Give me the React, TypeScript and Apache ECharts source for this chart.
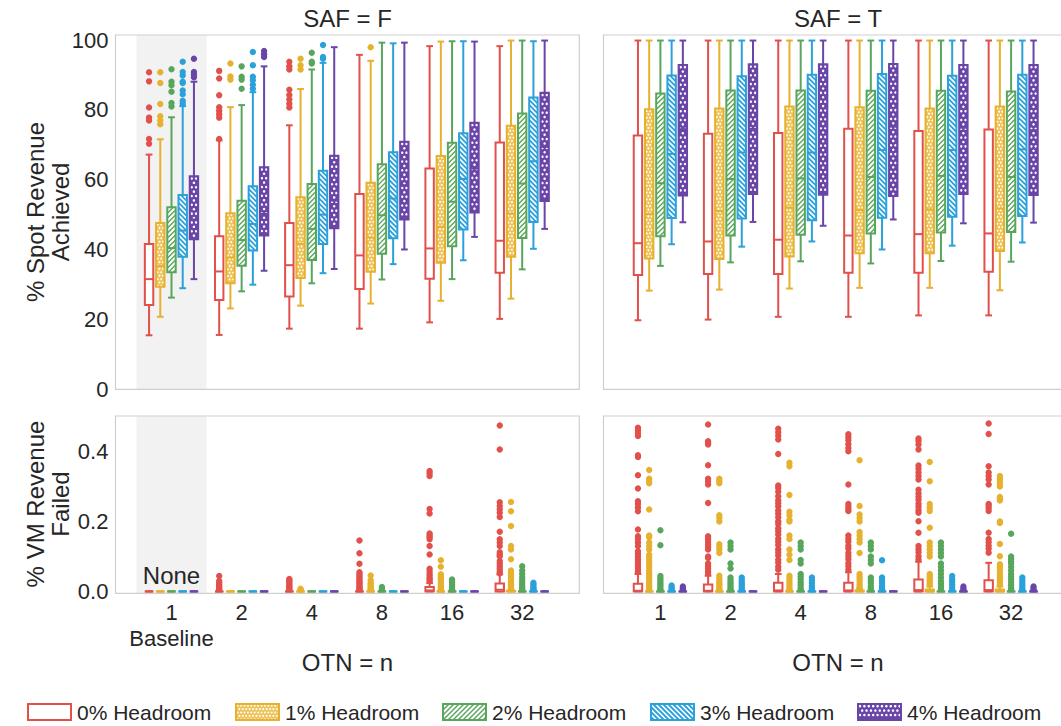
import React, { useEffect, useRef } from 'react';
import * as echarts from 'echarts';

const OTN = ['1', '2', '4', '8', '16', '32'];
const HEADROOM = ['0% Headroom', '1% Headroom', '2% Headroom', '3% Headroom', '4% Headroom'];
const COLORS = ['#E1504A', '#E6B12E', '#58A65C', '#2AA1DA', '#6A45A8'];
const FONT = '"Liberation Sans", Arial, sans-serif';
const TXT = '#262626';

// ---- % Spot Revenue Achieved, SAF = F : [whiskerLow, Q1, median, Q3, whiskerHigh] per OTN
const spotF_h0 = [[15.4, 24.1, 31.5, 41.6, 67.2], [15.5, 25.5, 33.7, 43.8, 71.3], [17.3, 26.5, 35.5, 47.6, 75.6], [17.3, 28.7, 38.3, 55.9, 95.8], [19.1, 31.6, 40.3, 63.2, 98.3], [20.1, 33.3, 42.5, 70.7, 98.3]];
const spotF_h1 = [[20.7, 29.3, 35.3, 47.6, 71.6], [23.1, 30.3, 37.7, 50.4, 80.8], [23.9, 31.8, 41.6, 55.0, 86.0], [24.5, 33.6, 43.4, 59.1, 94.1], [25.3, 36.2, 46.5, 66.8, 99.6], [25.9, 37.9, 50.3, 75.5, 99.9]];
const spotF_h2 = [[26.2, 33.5, 40.4, 52.1, 77.9], [28.0, 35.3, 42.7, 54.0, 81.4], [30.3, 37.0, 45.9, 58.8, 91.6], [31.4, 38.8, 49.8, 64.4, 99.3], [31.5, 40.9, 53.7, 70.6, 99.7], [34.3, 43.3, 58.9, 79.0, 99.9]];
const spotF_h3 = [[28.9, 37.9, 45.4, 55.6, 81.1], [29.9, 39.7, 47.3, 58.1, 85.1], [33.2, 41.6, 50.0, 62.6, 93.5], [35.8, 43.2, 54.6, 67.9, 99.1], [36.9, 45.7, 60.2, 73.3, 99.7], [40.2, 47.9, 65.3, 83.6, 99.7]];
const spotF_h4 = [[31.5, 42.9, 48.6, 61.0, 88.1], [33.9, 44.0, 50.2, 63.6, 92.5], [34.4, 46.1, 54.0, 66.9, 98.0], [40.0, 48.6, 58.4, 70.9, 99.3], [43.6, 50.6, 63.2, 76.3, 99.6], [45.9, 53.9, 69.4, 84.9, 99.9]];

const spotF_out0 = [[90.8, 88.2, 80.7, 77.8, 77.0, 71.7, 70.3], [91.2, 89.0, 84.2, 80.8, 79.8, 78.8, 77.8, 71.7], [93.8, 92.5, 91.6, 85.8, 84.3, 83.0, 81.8, 80.7], [], [], []];
const spotF_out1 = [[90.8, 87.7, 81.7, 78.2, 77.0, 75.9], [93.3, 89.6, 88.7], [94.7, 92.8, 91.6], [98.0], [], []];
const spotF_out2 = [[91.7, 88.1, 87.1, 85.2, 82.0, 81.0], [92.5, 89.5, 88.7, 86.1], [96.4, 93.8, 93.3], [], [], []];
const spotF_out3 = [[93.8, 90.9, 89.9, 88.1, 87.7, 85.6, 84.5, 82.6, 81.8], [96.6, 92.8, 89.5, 88.5, 87.2, 86.1], [98.6, 95.2, 94.7], [], [], []];
const spotF_out4 = [[94.7, 90.9, 90.2, 89.4], [96.9, 96.0, 95.2], [], [], [], []];

// ---- % Spot Revenue Achieved, SAF = T
const spotT_h0 = [[19.7, 32.7, 41.8, 72.7, 99.9], [19.9, 33.0, 42.3, 73.2, 99.9], [20.7, 33.0, 42.8, 73.4, 99.9], [20.7, 33.3, 44.0, 74.6, 99.9], [21.1, 33.3, 44.4, 74.0, 99.9], [21.1, 33.6, 44.6, 74.4, 99.9]];
const spotT_h1 = [[28.2, 37.4, 50.2, 80.2, 99.9], [28.5, 37.3, 51.0, 80.4, 99.9], [28.8, 38.0, 52.0, 81.0, 99.9], [29.0, 38.9, 51.3, 80.8, 99.9], [29.0, 38.9, 51.5, 80.4, 99.9], [28.3, 39.6, 51.7, 81.0, 99.9]];
const spotT_h2 = [[35.3, 43.8, 59.0, 84.7, 99.9], [36.3, 44.0, 60.2, 85.6, 99.9], [36.6, 44.2, 60.4, 85.6, 99.9], [36.0, 44.6, 60.8, 85.5, 99.9], [36.7, 44.9, 61.1, 85.5, 99.9], [36.5, 45.0, 60.8, 85.3, 99.9]];
const spotT_h3 = [[41.5, 49.0, 67.4, 89.9, 99.9], [40.8, 48.9, 67.8, 89.7, 99.9], [42.3, 48.4, 67.8, 90.1, 99.9], [40.0, 49.1, 68.5, 90.3, 99.9], [41.1, 49.4, 68.5, 89.8, 99.9], [42.0, 49.6, 68.7, 90.1, 99.9]];
const spotT_h4 = [[47.8, 55.5, 74.5, 92.9, 99.9], [47.9, 55.9, 74.6, 93.1, 99.9], [46.8, 55.7, 75.3, 93.1, 99.9], [48.6, 55.3, 75.2, 93.2, 99.9], [47.5, 55.9, 74.9, 92.9, 99.9], [47.7, 55.6, 74.2, 92.9, 99.9]];
const spotT_out0 = [[], [], [], [], [], []];
const spotT_out1 = [[], [], [], [], [], []];
const spotT_out2 = [[], [], [], [], [], []];
const spotT_out3 = [[], [], [], [], [], []];
const spotT_out4 = [[], [], [], [], [], []];

// ---- % VM Revenue Failed, SAF = F
const failF_h0 = [[0, 0, 0, 0, 0], [0, 0, 0, 0, 0], [0, 0, 0, 0, 0], [0, 0, 0, 0, 0], [0, 0, 0.003, 0.013, 0.024], [0, 0, 0.005, 0.023, 0.049]];
const failF_h1 = [[0, 0, 0, 0, 0], [0, 0, 0, 0, 0], [0, 0, 0, 0, 0], [0, 0, 0, 0, 0], [0, 0, 0, 0, 0], [0, 0, 0, 0.002, 0.005]];
const failF_h2 = [[0, 0, 0, 0, 0], [0, 0, 0, 0, 0], [0, 0, 0, 0, 0], [0, 0, 0, 0, 0], [0, 0, 0, 0, 0], [0, 0, 0, 0, 0]];
const failF_h3 = [[0, 0, 0, 0, 0], [0, 0, 0, 0, 0], [0, 0, 0, 0, 0], [0, 0, 0, 0, 0], [0, 0, 0, 0, 0], [0, 0, 0, 0, 0]];
const failF_h4 = [[0, 0, 0, 0, 0], [0, 0, 0, 0, 0], [0, 0, 0, 0, 0], [0, 0, 0, 0, 0], [0, 0, 0, 0, 0], [0, 0, 0, 0, 0]];
const failF_out0 = [
  [],
  [0.044, 0.03, 0.025, 0.02, 0.016, 0.012, 0.008, 0.005],
  [0.036, 0.032, 0.028, 0.024, 0.02, 0.016, 0.012, 0.008, 0.005],
  [0.146, 0.109, 0.079, 0.055, 0.05, 0.045, 0.04, 0.035, 0.03, 0.026, 0.022, 0.018, 0.014, 0.01, 0.007, 0.004],
  [0.344, 0.338, 0.33, 0.236, 0.223, 0.166, 0.16, 0.155, 0.149, 0.13, 0.106, 0.065, 0.058, 0.05, 0.044, 0.038, 0.034, 0.03],
  [0.474, 0.406, 0.255, 0.244, 0.235, 0.225, 0.213, 0.171, 0.149, 0.14, 0.13, 0.112, 0.106, 0.101, 0.087, 0.08, 0.072, 0.065, 0.058, 0.052],
];
const failF_out1 = [
  [], [], [0.008, 0.005, 0.003],
  [0.046, 0.032, 0.025, 0.02, 0.015, 0.011, 0.007, 0.004],
  [0.089, 0.071, 0.049, 0.044, 0.039, 0.034, 0.029, 0.024, 0.019, 0.014, 0.01, 0.006, 0.003],
  [0.256, 0.229, 0.187, 0.13, 0.12, 0.092, 0.06, 0.052, 0.046, 0.04, 0.035, 0.03, 0.025, 0.02, 0.016, 0.012, 0.008],
];
const failF_out2 = [[], [], [], [0.013, 0.008, 0.004], [0.034, 0.03, 0.025, 0.02, 0.015, 0.01, 0.006, 0.003], [0.072, 0.06, 0.05, 0.04, 0.032, 0.025, 0.018, 0.012, 0.007, 0.003]];
const failF_out3 = [[], [], [], [], [], [0.025, 0.02, 0.015, 0.01, 0.006, 0.003]];
const failF_out4 = [[], [], [], [], [], []];

// ---- % VM Revenue Failed, SAF = T
const failT_h0 = [[0, 0, 0.002, 0.022, 0.05], [0, 0, 0.002, 0.02, 0.045], [0, 0, 0.003, 0.025, 0.05], [0, 0, 0.003, 0.025, 0.055], [0, 0, 0.004, 0.034, 0.085], [0, 0, 0.004, 0.032, 0.082]];
const failT_h1 = [[0, 0, 0, 0, 0], [0, 0, 0, 0, 0], [0, 0, 0, 0, 0], [0, 0, 0, 0.003, 0.008], [0, 0, 0, 0.006, 0.014], [0, 0, 0, 0.006, 0.014]];
const failT_h2 = [[0, 0, 0, 0, 0], [0, 0, 0, 0, 0], [0, 0, 0, 0, 0], [0, 0, 0, 0, 0], [0, 0, 0, 0, 0], [0, 0, 0, 0, 0]];
const failT_h3 = [[0, 0, 0, 0, 0], [0, 0, 0, 0, 0], [0, 0, 0, 0, 0], [0, 0, 0, 0, 0], [0, 0, 0, 0, 0], [0, 0, 0, 0, 0]];
const failT_h4 = [[0, 0, 0, 0, 0], [0, 0, 0, 0, 0], [0, 0, 0, 0, 0], [0, 0, 0, 0, 0], [0, 0, 0, 0, 0], [0, 0, 0, 0, 0]];
const failT_out0 = [
  [0.468, 0.46, 0.452, 0.444, 0.389, 0.384, 0.332, 0.294, 0.258, 0.25, 0.24, 0.229, 0.177, 0.158, 0.15, 0.14, 0.13, 0.115, 0.108, 0.1, 0.092, 0.085, 0.078, 0.07, 0.063, 0.056],
  [0.477, 0.429, 0.424, 0.42, 0.361, 0.322, 0.315, 0.306, 0.253, 0.158, 0.15, 0.142, 0.135, 0.127, 0.12, 0.1, 0.096, 0.08, 0.072, 0.065, 0.058, 0.052],
  [0.465, 0.455, 0.445, 0.434, 0.393, 0.303, 0.296, 0.285, 0.272, 0.261, 0.252, 0.243, 0.231, 0.222, 0.212, 0.201, 0.193, 0.181, 0.172, 0.163, 0.151, 0.142, 0.133, 0.121, 0.112, 0.103, 0.091, 0.082, 0.071, 0.062],
  [0.449, 0.441, 0.432, 0.421, 0.41, 0.401, 0.306, 0.25, 0.242, 0.235, 0.23, 0.16, 0.151, 0.142, 0.131, 0.122, 0.11, 0.101, 0.092, 0.081, 0.072, 0.062],
  [0.437, 0.43, 0.42, 0.406, 0.36, 0.351, 0.34, 0.33, 0.32, 0.291, 0.28, 0.271, 0.262, 0.251, 0.242, 0.232, 0.225, 0.201, 0.168, 0.13, 0.121, 0.112, 0.101, 0.092],
  [0.48, 0.45, 0.358, 0.34, 0.33, 0.32, 0.306, 0.25, 0.245, 0.238, 0.23, 0.168, 0.15, 0.141, 0.131, 0.122, 0.111],
];
const failT_out1 = [
  [0.347, 0.322, 0.315, 0.309, 0.234, 0.16, 0.155, 0.14, 0.13, 0.12, 0.105, 0.098, 0.09, 0.082, 0.075, 0.068, 0.06, 0.053, 0.046, 0.04, 0.034, 0.028, 0.022, 0.016, 0.01, 0.005],
  [0.322, 0.315, 0.309, 0.218, 0.21, 0.2, 0.135, 0.128, 0.12, 0.11, 0.045, 0.038, 0.032, 0.026, 0.02, 0.014, 0.008, 0.004],
  [0.368, 0.358, 0.276, 0.228, 0.218, 0.205, 0.2, 0.16, 0.15, 0.12, 0.105, 0.09, 0.045, 0.038, 0.03, 0.022, 0.015, 0.008, 0.004],
  [0.375, 0.244, 0.22, 0.21, 0.2, 0.17, 0.16, 0.15, 0.14, 0.11, 0.05, 0.043, 0.036, 0.028, 0.02, 0.013, 0.007],
  [0.37, 0.315, 0.25, 0.24, 0.23, 0.182, 0.14, 0.13, 0.12, 0.11, 0.1, 0.05, 0.044, 0.038, 0.032, 0.026, 0.02],
  [0.33, 0.322, 0.314, 0.306, 0.3, 0.27, 0.265, 0.26, 0.2, 0.196, 0.136, 0.101, 0.078, 0.07, 0.062, 0.055, 0.048, 0.04, 0.033, 0.026, 0.019],
];
const failT_out2 = [
  [0.175, 0.132, 0.044, 0.038, 0.032, 0.026, 0.02, 0.014, 0.008, 0.004],
  [0.14, 0.13, 0.12, 0.08, 0.066, 0.04, 0.033, 0.026, 0.02, 0.014, 0.008, 0.004],
  [0.14, 0.13, 0.12, 0.09, 0.08, 0.05, 0.042, 0.035, 0.026, 0.018, 0.01, 0.005],
  [0.14, 0.13, 0.12, 0.1, 0.09, 0.08, 0.04, 0.032, 0.024, 0.016, 0.009, 0.004],
  [0.14, 0.13, 0.12, 0.11, 0.1, 0.08, 0.07, 0.06, 0.05, 0.04, 0.03, 0.022, 0.014, 0.007],
  [0.165, 0.1, 0.093, 0.086, 0.08, 0.07, 0.06, 0.05, 0.042, 0.034, 0.026, 0.018, 0.01, 0.005],
];
const failT_out3 = [
  [0.017, 0.012, 0.007, 0.003],
  [0.04, 0.033, 0.026, 0.02, 0.014, 0.008, 0.004],
  [0.04, 0.032, 0.024, 0.016, 0.009, 0.004],
  [0.089, 0.04, 0.032, 0.024, 0.016, 0.009, 0.004],
  [0.044, 0.035, 0.028, 0.02, 0.012, 0.006],
  [0.04, 0.032, 0.024, 0.017, 0.01, 0.005],
];
const failT_out4 = [[0.014, 0.009, 0.005], [], [], [], [0.014, 0.008, 0.004], [0.014, 0.008, 0.004]];

// panel order: 0 = spot F, 1 = spot T, 2 = fail F, 3 = fail T
const PANEL_BOXES = [
  [spotF_h0, spotF_h1, spotF_h2, spotF_h3, spotF_h4],
  [spotT_h0, spotT_h1, spotT_h2, spotT_h3, spotT_h4],
  [failF_h0, failF_h1, failF_h2, failF_h3, failF_h4],
  [failT_h0, failT_h1, failT_h2, failT_h3, failT_h4],
];
const PANEL_OUT = [
  [spotF_out0, spotF_out1, spotF_out2, spotF_out3, spotF_out4],
  [spotT_out0, spotT_out1, spotT_out2, spotT_out3, spotT_out4],
  [failF_out0, failF_out1, failF_out2, failF_out3, failF_out4],
  [failT_out0, failT_out1, failT_out2, failT_out3, failT_out4],
];

// ---------- drawing helpers (pixel-space decoration of a box) ----------
function hatchEls(h: number, x0: number, y0: number, x1: number, y1: number): any[] {
  const col = COLORS[h];
  const els: any[] = [];
  const w = x1 - x0;
  const ht = y1 - y0;
  if (ht < 0.5 || w <= 0) return els;
  if (h === 0) {
    els.push({ type: 'rect', shape: { x: x0, y: y0, width: w, height: ht }, style: { fill: '#ffffff' } });
  } else if (h === 1) {
    els.push({ type: 'rect', shape: { x: x0, y: y0, width: w, height: ht }, style: { fill: '#EDC35A' } });
    const step = 3.4;
    let row = 0;
    for (let y = y0 + step / 2; y < y1 - 0.5; y += step, row++) {
      for (let x = x0 + (row % 2 ? step : step / 2); x < x1 - 0.5; x += step) {
        els.push({ type: 'circle', shape: { cx: x, cy: y, r: 0.95 }, style: { fill: '#ffffff' } });
      }
    }
  } else if (h === 2) {
    els.push({ type: 'rect', shape: { x: x0, y: y0, width: w, height: ht }, style: { fill: '#ffffff' } });
    const step = 5;
    for (let c = x0 + y0 + 1; c < x1 + y1; c += step) {
      const xa = Math.max(x0, c - y1);
      const xb = Math.min(x1, c - y0);
      if (xb > xa + 0.3) {
        els.push({ type: 'line', shape: { x1: xa, y1: c - xa, x2: xb, y2: c - xb }, style: { stroke: col, lineWidth: 1.4 } });
      }
    }
  } else if (h === 3) {
    els.push({ type: 'rect', shape: { x: x0, y: y0, width: w, height: ht }, style: { fill: '#ffffff' } });
    const step = 5;
    for (let d = y0 - x1 + 1; d < y1 - x0; d += step) {
      const xa = Math.max(x0, y0 - d);
      const xb = Math.min(x1, y1 - d);
      if (xb > xa + 0.3) {
        els.push({ type: 'line', shape: { x1: xa, y1: xa + d, x2: xb, y2: xb + d }, style: { stroke: col, lineWidth: 1.8 } });
      }
    }
  } else {
    els.push({ type: 'rect', shape: { x: x0, y: y0, width: w, height: ht }, style: { fill: col } });
    const step = 4.4;
    let row = 0;
    for (let y = y0 + step / 2; y < y1 - 0.8; y += step, row++) {
      for (let x = x0 + (row % 2 ? step * 0.95 : step * 0.45); x < x1 - 0.8; x += step) {
        els.push({ type: 'circle', shape: { cx: x, cy: y, r: 1.25 }, style: { fill: '#ffffff' } });
      }
    }
  }
  return els;
}

const OFFSET = 0.16; // box spacing within a category (fraction of band)
const HALF_W = 0.06; // half box width (fraction of band)
const CAP_W = 0.048;

function makeBoxRender(h: number) {
  return (params: any, api: any) => {
    const cat = api.value(0);
    const bw = api.size([1, 0])[0];
    const med = api.coord([cat, api.value(3)]);
    const cx = med[0] + (h - 2) * bw * OFFSET;
    const hw = bw * HALF_W;
    const cw = bw * CAP_W;
    const yLo = api.coord([cat, api.value(1)])[1];
    const yQ1 = api.coord([cat, api.value(2)])[1];
    const yQ3 = api.coord([cat, api.value(4)])[1];
    const yHi = api.coord([cat, api.value(5)])[1];
    const col = COLORS[h];
    const ls = { stroke: col, lineWidth: 2 };
    const children: any[] = [
      { type: 'line', shape: { x1: cx, y1: yQ1, x2: cx, y2: yLo }, style: ls },
      { type: 'line', shape: { x1: cx, y1: yQ3, x2: cx, y2: yHi }, style: ls },
      { type: 'line', shape: { x1: cx - cw, y1: yLo, x2: cx + cw, y2: yLo }, style: ls },
      { type: 'line', shape: { x1: cx - cw, y1: yHi, x2: cx + cw, y2: yHi }, style: ls },
      ...hatchEls(h, cx - hw, yQ3, cx + hw, yQ1),
      { type: 'line', shape: { x1: cx - hw, y1: med[1], x2: cx + hw, y2: med[1] }, style: ls },
      { type: 'rect', shape: { x: cx - hw, y: yQ3, width: 2 * hw, height: Math.max(0, yQ1 - yQ3) }, style: { fill: 'none', stroke: col, lineWidth: 2 } },
    ];
    return { type: 'group', children };
  };
}

function makeOutRender(h: number) {
  return (params: any, api: any) => {
    const cat = api.value(0);
    const bw = api.size([1, 0])[0];
    const p = api.coord([cat, api.value(1)]);
    return { type: 'circle', shape: { cx: p[0] + (h - 2) * bw * OFFSET, cy: p[1], r: 3.2 }, style: { fill: COLORS[h] } };
  };
}

function shadeRender(params: any, api: any) {
  const bw = api.size([1, 0])[0];
  const a = api.coord([api.value(0), api.value(1)]);
  const b = api.coord([api.value(0), api.value(2)]);
  return { type: 'rect', shape: { x: a[0] - bw / 2, y: a[1], width: bw, height: b[1] - a[1] }, style: { fill: '#F2F2F2' } };
}

// ---------- layout ----------
const BAND = 70.14;
const GRIDS = [
  { left: 171.5 - BAND / 2, top: 40.2, width: BAND * 6, height: 348.8 },
  { left: 660.4 - BAND / 2, top: 40.2, width: BAND * 6, height: 348.8 },
  { left: 171.5 - BAND / 2, top: 416.5, width: BAND * 6, height: 175 },
  { left: 660.4 - BAND / 2, top: 416.5, width: BAND * 6, height: 175 },
];
const FRAMES = [
  { x: 115.5, y: 35, width: 463.8, height: 354.3 },
  { x: 603.5, y: 35, width: 470, height: 354.3 },
  { x: 115.5, y: 416, width: 463.8, height: 177.3 },
  { x: 603.5, y: 416, width: 470, height: 177.3 },
];

function buildOption() {
  const series: any[] = [];
  // baseline shading (left panels)
  series.push({ type: 'custom', name: 'baseline', xAxisIndex: 0, yAxisIndex: 0, z: 1, silent: true, renderItem: shadeRender, data: [[0, 101.5, -0.1]] });
  series.push({ type: 'custom', name: 'baseline', xAxisIndex: 2, yAxisIndex: 2, z: 1, silent: true, renderItem: shadeRender, data: [[0, 0.5015, -0.005]] });
  for (let p = 0; p < 4; p++) {
    for (let h = 0; h < 5; h++) {
      series.push({
        type: 'custom', name: HEADROOM[h], xAxisIndex: p, yAxisIndex: p, z: 2,
        renderItem: makeBoxRender(h),
        data: PANEL_BOXES[p][h].map((b, i) => [i, ...b]),
      });
      const pts: number[][] = [];
      PANEL_OUT[p][h].forEach((list, i) => list.forEach((v) => pts.push([i, v])));
      series.push({
        type: 'custom', name: HEADROOM[h], xAxisIndex: p, yAxisIndex: p, z: 3,
        renderItem: makeOutRender(h), data: pts,
      });
    }
  }

  const axisLabelBase = { fontFamily: FONT, fontSize: 22, color: TXT };
  const xAxis = [0, 1, 2, 3].map((i) => ({
    type: 'category', gridIndex: i, data: OTN, boundaryGap: true,
    axisLine: { show: false }, axisTick: { show: false }, splitLine: { show: false },
    axisLabel: {
      show: i >= 2, ...axisLabelBase, margin: 8, lineHeight: 26, interval: 0,
      formatter: (v: string, idx: number) => (i === 2 && idx === 0 ? v + '\nBaseline' : v),
    },
  }));
  const yAxis = [0, 1, 2, 3].map((i) => {
    const top = i < 2;
    return {
      type: 'value', gridIndex: i,
      min: 0, max: top ? 100 : 0.5, interval: top ? 20 : 0.2,
      axisLine: { show: false }, axisTick: { show: false }, splitLine: { show: false },
      axisLabel: {
        show: i % 2 === 0, ...axisLabelBase, margin: 28, showMaxLabel: top,
        formatter: (v: number) => (top ? String(v) : v.toFixed(1)),
      },
    };
  });

  const text = (t: string, x: number, y: number, size: number, extra: any = {}) => ({
    type: 'text', x, y, z: 20, silent: true, ...extra,
    style: { text: t, fontFamily: FONT, fontSize: size, fill: TXT, align: 'center', verticalAlign: 'middle', ...(extra.style || {}) },
  });

  const graphic: any[] = [];
  FRAMES.forEach((f) => graphic.push({ type: 'rect', z: 15, silent: true, shape: f, style: { fill: 'none', stroke: '#CFCFCF', lineWidth: 1.2 } }));
  graphic.push(text('SAF = F', 347.5, 18, 24));
  graphic.push(text('SAF = T', 838, 18, 24));
  graphic.push(text('OTN = n', 347.5, 662, 24));
  graphic.push(text('OTN = n', 838, 662, 24));
  graphic.push(text('None', 171.5, 575, 24));
  graphic.push(text('% Spot Revenue\nAchieved', 48, 212, 24, { rotation: Math.PI / 2, style: { lineHeight: 25 } }));
  graphic.push(text('% VM Revenue\nFailed', 48, 504, 24, { rotation: Math.PI / 2, style: { lineHeight: 25 } }));

  const legendX = [28, 236, 443, 651, 858];
  legendX.forEach((lx, h) => {
    const x0 = lx, y0 = 704, x1 = lx + 43, y1 = 720;
    graphic.push({
      type: 'group', z: 20, silent: true,
      children: [
        ...hatchEls(h, x0, y0, x1, y1),
        { type: 'rect', shape: { x: x0, y: y0, width: x1 - x0, height: y1 - y0 }, style: { fill: 'none', stroke: COLORS[h], lineWidth: 2 } },
      ],
    });
    graphic.push(text(HEADROOM[h], lx + 49, 712, 21, { style: { align: 'left' } }));
  });

  return {
    animation: false,
    backgroundColor: '#ffffff',
    textStyle: { fontFamily: FONT },
    grid: GRIDS,
    xAxis,
    yAxis,
    series,
    graphic,
  };
}

export default function App() {
  const ref = useRef<HTMLDivElement>(null);
  useEffect(() => {
    if (!ref.current) return;
    const chart = echarts.init(ref.current, undefined, { renderer: 'svg' });
    chart.setOption(buildOption() as any);
    return () => chart.dispose();
  }, []);
  return <div ref={ref} style={{ position: 'fixed', left: 0, top: 0, width: 1061, height: 726 }} />;
}
